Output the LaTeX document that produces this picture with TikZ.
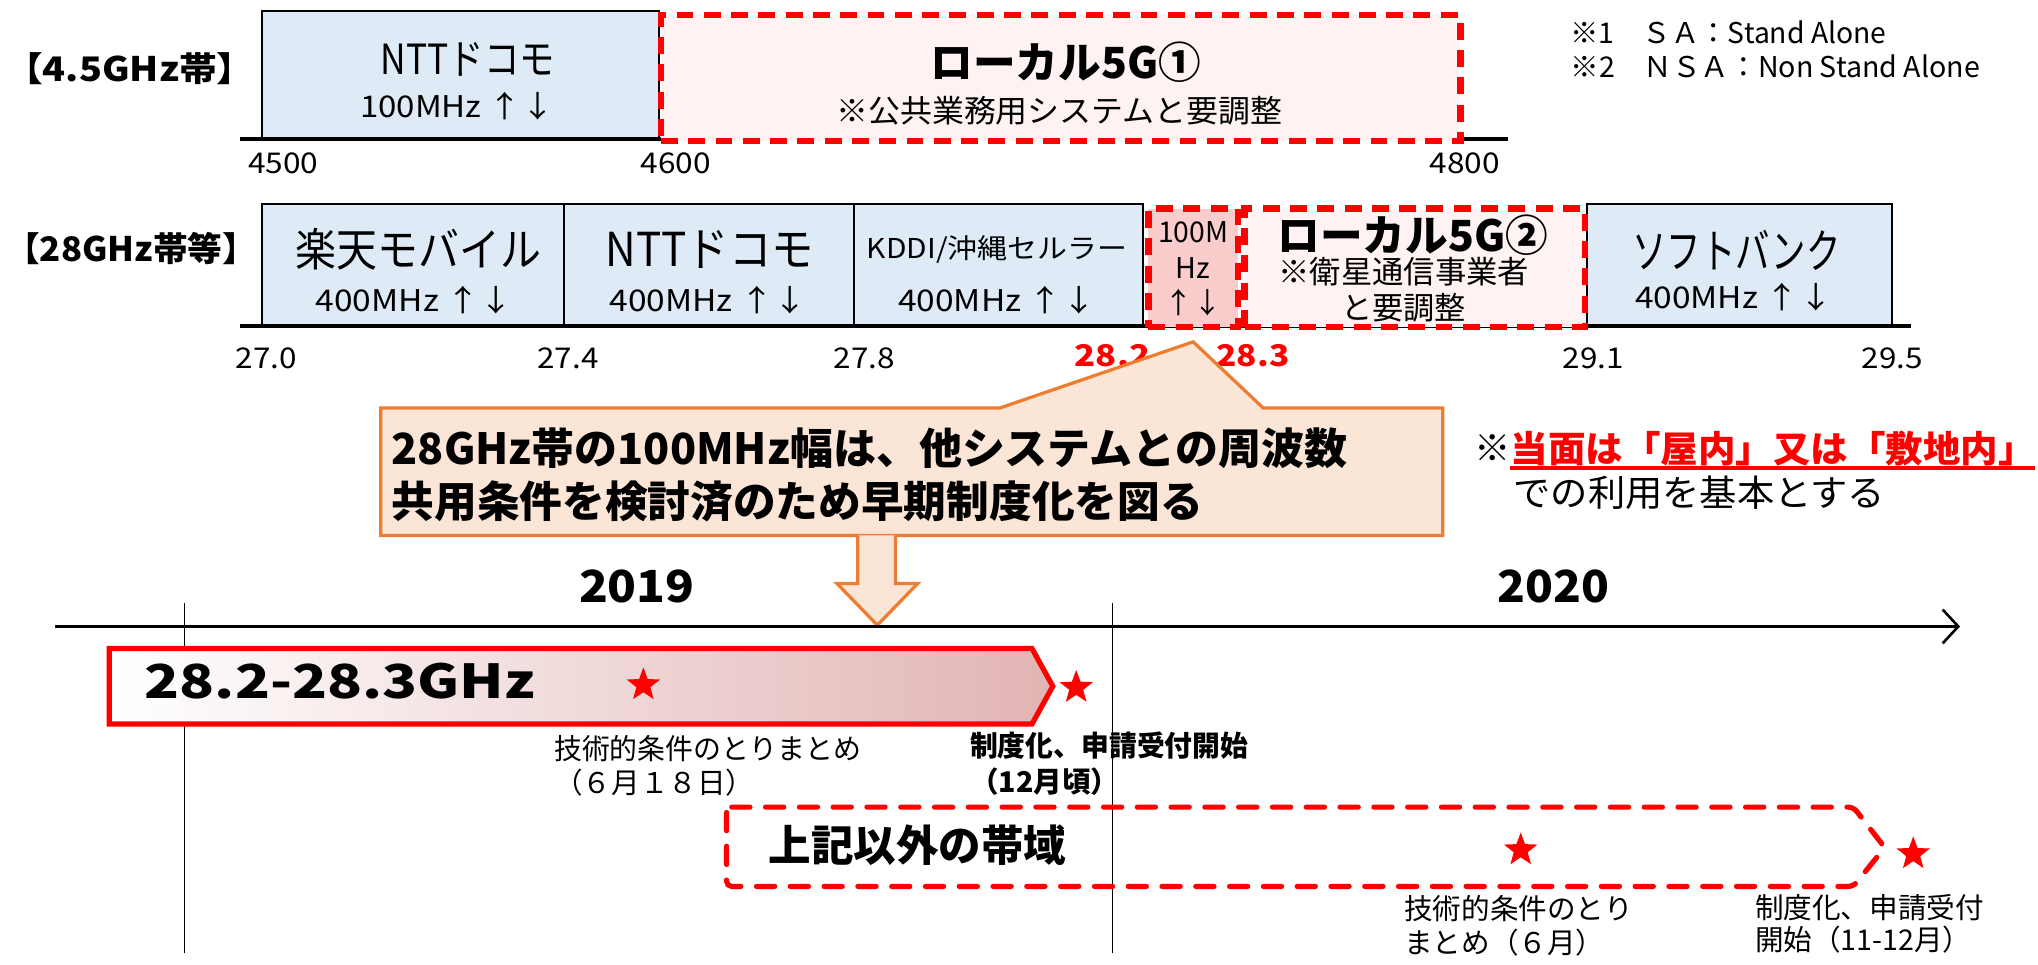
\documentclass[tikz,border=0pt]{standalone}
\usepackage{fontspec}
\setmainfont{Noto Sans CJK JP}
\usepackage{graphicx}
\usetikzlibrary{shapes.geometric,arrows.meta}
\definecolor{boxblue}{RGB}{222,235,247}
\definecolor{lpink}{RGB}{254,242,242}
\definecolor{mpink}{RGB}{250,204,204}
\definecolor{calfill}{RGB}{251,229,214}
\definecolor{calline}{RGB}{237,125,49}
\definecolor{chevpink}{RGB}{226,180,180}
\newcommand{\fs}[1]{\fontsize{#1pt}{#1pt}\selectfont}
\newcommand{\fitw}[2]{\resizebox{#1pt}{\height}{#2}}
\begin{document}
\begin{tikzpicture}[x=0.5pt,y=-0.5pt,
  txt/.style={inner sep=0pt, anchor=center},
  txtl/.style={inner sep=0pt, anchor=west},
  bluebox/.style={draw=black, line width=0.75pt, fill=boxblue, anchor=north west, inner sep=0pt},
  reddash/.style={draw=red, line width=2.5pt, dash pattern=on 6.5pt off 4pt, anchor=north west, inner sep=0pt},
  baseln/.style={draw=black, line width=1.5pt},
  starnode/.style={star, star points=5, star point ratio=2.4, fill=red, inner sep=0pt, minimum size=13.5pt},
  tick/.style={draw=black, line width=0.6pt}
]
\fill[white] (0,0) rectangle (1568,742);
\path[use as bounding box] (0,0) rectangle (1568,742);

% ---------- row 1 : 4.5GHz ----------
\node[txt] (lab45) at (100,53) {\fs{13}\bfseries\fitw{96}{【4.5GHz帯】}};
\node[bluebox, minimum width=152.5pt, minimum height=49.5pt] (ntt1) at (201,8) {};
\coordinate (b1l) at (185,107);
\coordinate (b1r) at (1160,107);
\draw[baseln] (b1l) -- (b1r);
\node[reddash, fill=lpink, minimum width=307.5pt, minimum height=48.5pt] (l5g1) at (506,9) {};
\node[txt] (ntt1t) at (360,46) {\fs{16}\fitw{67}{NTTドコモ}};
\node[txt] (ntt1m) at (352,82) {\fs{11.5}\fitw{75}{100MHz ↑↓}};
\node[txt] (l5g1t) at (820,48) {\fs{16.5}\bfseries\fitw{104}{ローカル5G①}};
\node[txt] (l5g1s) at (815,85) {\fs{12}\fitw{171.5}{※公共業務用システムと要調整}};
\node[txt] (f4500) at (218,126) {\fs{11}\fitw{27}{4500}};
\node[txt] (f4600) at (520,126) {\fs{11}\fitw{27}{4600}};
\node[txt] (f4800) at (1127,126) {\fs{11}\fitw{27}{4800}};
\node[txtl] (nsa1) at (1208,25) {\fs{11}\fitw{121.5}{※1　ＳＡ：Stand Alone}};
\node[txtl] (nsa2) at (1208,51) {\fs{11}\fitw{157.5}{※2　ＮＳＡ：Non Stand Alone}};

% ---------- row 2 : 28GHz ----------
\node[txt] (lab28) at (101,191) {\fs{13}\bfseries\fitw{97}{【28GHz帯等】}};
\node[bluebox, minimum width=116pt, minimum height=47.5pt] (raku) at (201,156) {};
\node[bluebox, minimum width=111.5pt, minimum height=47.5pt] (ntt2) at (433,156) {};
\node[bluebox, minimum width=111.5pt, minimum height=47.5pt] (kddi) at (656,156) {};
\node[bluebox, minimum width=117.5pt, minimum height=47.5pt] (soft) at (1220,156) {};
\coordinate (b2l) at (185,251);
\coordinate (b2r) at (1470,251);
\draw[baseln] (b2l) -- (b2r);
\node[reddash, fill=mpink, minimum width=34.5pt, minimum height=45.5pt] (m100) at (881,158) {};
\node[reddash, fill=lpink, minimum width=131pt, minimum height=45.5pt] (l5g2) at (955,158) {};

\node[txt] (rakut) at (322,192) {\fs{17.5}\fitw{94.5}{楽天モバイル}};
\node[txt] (rakum) at (319,231) {\fs{11.5}\fitw{76}{400MHz ↑↓}};
\node[txt] (ntt2t) at (546,192) {\fs{18}\fitw{80}{NTTドコモ}};
\node[txt] (ntt2m) at (545,231) {\fs{11.5}\fitw{76}{400MHz ↑↓}};
\node[txt] (kddit) at (767,192) {\fs{10.5}\fitw{100}{KDDI/沖縄セルラー}};
\node[txt] (kddim) at (767,231) {\fs{11.5}\fitw{76}{400MHz ↑↓}};
\node[txt] (m100a) at (918,179) {\fs{11}\fitw{27}{100M}};
\node[txt] (m100b) at (918,206) {\fs{11}Hz};
\node[txt] (m100c) at (918,233) {\fs{11}↑↓};
\node[txt] (l5g2t) at (1087,181) {\fs{16.5}\bfseries\fitw{104}{ローカル5G②}};
\node[txt] (l5g2s) at (1080,209) {\fs{12}\fitw{96.5}{※衛星通信事業者}};
\node[txt] (l5g2u) at (1080,237) {\fs{12}と要調整};
\node[txt] (softt) at (1336,193) {\fs{18}\fitw{80}{ソフトバンク}};
\node[txt] (softm) at (1334,229) {\fs{11.5}\fitw{76}{400MHz ↑↓}};

\node[txt] (g270) at (205,276) {\fs{11}\fitw{23.5}{27.0}};
\node[txt] (g274) at (437,276) {\fs{11}\fitw{23.5}{27.4}};
\node[txt] (g278) at (665,276) {\fs{11}\fitw{23.5}{27.8}};
\node[txt] (g291) at (1226,276) {\fs{11}\fitw{23.5}{29.1}};
\node[txt] (g295) at (1456,276) {\fs{11}\fitw{23.5}{29.5}};
\node[txt, text=red] (g282) at (856,274) {\fs{11.5}\bfseries\fitw{29}{28.2}};
\node[txt, text=red] (g283) at (964,274) {\fs{11.5}\bfseries\fitw{28}{28.3}};

% ---------- callout ----------
\coordinate (ptip) at (918,263);
\filldraw[fill=calfill, draw=calline, line width=1.25pt, line join=miter]
  (293,314) -- (769,314) -- (ptip) -- (972,314) -- (1110,314) -- (1110,412) -- (293,412) -- cycle;
\node[txtl] (cal1) at (301,345) {\fs{16.5}\bfseries\fitw{367.5}{28GHz帯の100MHz幅は、他システムとの周波数}};
\node[txtl] (cal2) at (301,386) {\fs{16.5}\bfseries\fitw{312}{共用条件を検討済のため早期制度化を図る}};
\filldraw[fill=calfill, draw=calline, line width=1.25pt]
  (660,412) -- (660,449) -- (644,449) -- (675,481) -- (706,449) -- (689,449) -- (689,412);

% ---------- note ----------
\node[txtl] (kome) at (1134,345) {\fs{14}※};
\node[txtl, text=red] (note1) at (1162,345) {\fs{14}\bfseries\fitw{202}{当面は「屋内」又は「敷地内」}};
\coordinate (ul0) at (1162,360);
\coordinate (ul1) at (1566,360);
\draw[red, line width=1.25pt] (ul0) -- (ul1);
\node[txtl] (note2) at (1164,379) {\fs{14}\fitw{143}{での利用を基本とする}};

% ---------- timeline ----------
\node[txt] (y2019) at (490,451) {\fs{17}\bfseries\fitw{44.5}{2019}};
\node[txt] (y2020) at (1195,451) {\fs{17}\bfseries\fitw{43}{2020}};
\coordinate (ax0) at (42,482);
\coordinate (ax1) at (1508,482);
\draw[line width=1pt, -{Straight Barb[length=6pt,width=13pt,line width=1pt]}] (ax0) -- (ax1);
\coordinate (v1t) at (142,464); \coordinate (v1b) at (142,733);
\coordinate (v2t) at (856,464); \coordinate (v2b) at (856,733);
\draw[tick] (v1t) -- (v1b);
\draw[tick] (v2t) -- (v2b);

% red chevron
\draw[draw=red, line width=2pt, left color=white, right color=chevpink, line join=miter]
  (84,499) -- (794,499) -- (810,528) -- (794,557) -- (84,557) -- cycle;
\node[txtl] (band1) at (111,524) {\fs{18}\bfseries\fitw{150}{28.2-28.3GHz}};
\node[starnode] (st1) at (495,527) {};
\node[starnode] (st2) at (828,529) {};
\node[txtl] (tc1a) at (426,576) {\fs{11}\fitw{118}{技術的条件のとりまとめ}};
\node[txtl] (tc1b) at (426,602) {\fs{11}（６月１８日）};
\node[txtl] (sd1a) at (746,574) {\fs{11}\bfseries\fitw{107}{制度化、申請受付開始}};
\node[txtl] (sd1b) at (746,601) {\fs{11}\bfseries（12月頃）};

% dashed chevron
\draw[draw=red, line width=2pt, dash pattern=on 7pt off 6pt, line cap=round, rounded corners=2pt]
  (559,621) -- (1426,621) -- (1450,652) -- (1426,682) -- (559,682) -- cycle;
\node[txtl] (band2) at (591,650) {\fs{16.5}\bfseries\fitw{114.5}{上記以外の帯域}};
\node[starnode] (st3) at (1170,654) {};
\node[starnode] (st4) at (1472,657) {};
\node[txtl] (tc2a) at (1080,699) {\fs{11}技術的条件のとり};
\node[txtl] (tc2b) at (1080,725) {\fs{11}まとめ（６月）};
\node[txtl] (sd2a) at (1350,698) {\fs{11}制度化、申請受付};
\node[txtl] (sd2b) at (1350,723) {\fs{11}開始（11-12月）};
\end{tikzpicture}
\end{document}
